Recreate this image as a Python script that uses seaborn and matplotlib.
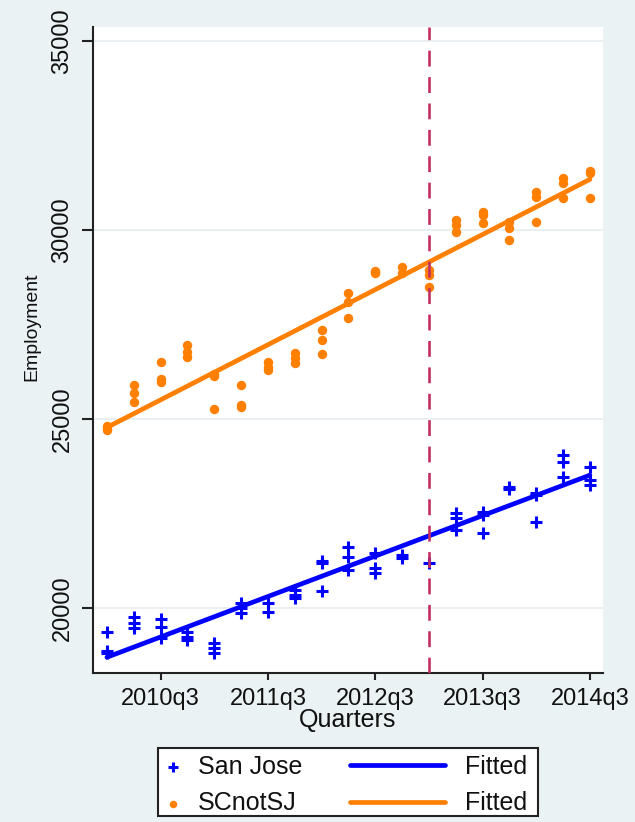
import matplotlib
matplotlib.use('Agg')
import matplotlib.pyplot as plt
import seaborn as sns
import pandas as pd
from matplotlib.patches import Rectangle

# ---------------- data ----------------
quarter_labels = ['2010q1', '2010q2', '2010q3', '2010q4', '2011q1', '2011q2', '2011q3',
                  '2011q4', '2012q1', '2012q2', '2012q3', '2012q4', '2013q1', '2013q2',
                  '2013q3', '2013q4', '2014q1', '2014q2', '2014q3']

# monthly employment observations grouped by quarter
san_jose = [
    [19370, 18850, 18820],
    [19760, 19600, 19470],
    [19710, 19500, 19200],
    [19370, 19230, 19150],
    [19080, 18940, 18810],
    [20130, 20000, 19870],
    [20130, 19890],
    [20480, 20340, 20260],
    [21250, 21200, 20450],
    [21620, 21350, 21000],
    [21450, 21060, 20920],
    [21400, 21320],
    [21190],
    [22510, 22380, 22070],
    [22540, 22450, 21990],
    [23200, 23150],
    [23050, 23000, 22280],
    [24050, 23860, 23470],
    [23730, 23390, 23260],
]
sc_not_sj = [
    [24700, 24760, 24820],
    [25900, 25690, 25450],
    [26510, 26050, 25980],
    [26950, 26780, 26650],
    [26150, 26200, 25270],
    [25900, 25380, 25330],
    [26510, 26380, 26300],
    [26750, 26615, 26480],
    [27350, 27090, 26720],
    [28330, 28100, 27670],
    [28900, 28870, 28920],
    [29020, 28870],
    [28950, 28800, 28500],
    [30270, 30130, 29950],
    [30480, 30400, 30190],
    [30215, 30050, 29740],
    [31000, 30875, 30215],
    [31380, 31245, 30850],
    [31560, 31500, 30850],
]
series_names = ['San Jose', 'SCnotSJ']
tick_labels = ['2010q3', '2011q3', '2012q3', '2013q3', '2014q3']
y_ticks = [20000, 25000, 30000, 35000]
policy_quarter = '2013q1'

# ---------------- build table ----------------
rows = []
for name, groups in zip(series_names, [san_jose, sc_not_sj]):
    for qi, vals in enumerate(groups):
        for v in vals:
            rows.append((qi, v, name))
df = pd.DataFrame(rows, columns=['quarter', 'employment', 'series'])
df_sj = df[df.series == 'San Jose']
df_sc = df[df.series == 'SCnotSJ']

# ---------------- style ----------------
sns.set_theme(style='white')
plt.rcParams['font.family'] = ['Liberation Sans', 'DejaVu Sans']
BG = '#EAF2F3'
BLUE = '#0000FF'
ORANGE = '#FF7F00'
TXT = '#111111'

fig = plt.figure(figsize=(6.35, 8.22), dpi=100, facecolor=BG)
ax = fig.add_axes([93 / 635, 149 / 822, 510 / 635, 646 / 822])
ax.set_facecolor('white')

sns.scatterplot(data=df_sj, x='quarter', y='employment', marker='+', color=BLUE,
                s=85, linewidth=2.2, ax=ax, legend=False, zorder=3)
sj_pts = ax.collections[-1]
sns.scatterplot(data=df_sc, x='quarter', y='employment', marker='o', color=ORANGE,
                s=46, linewidth=0, ax=ax, legend=False, zorder=3)
sc_pts = ax.collections[-1]

sns.regplot(data=df_sj, x='quarter', y='employment', scatter=False, ci=None,
            color=BLUE, line_kws=dict(lw=3.4, zorder=4), ax=ax)
fit_sj = ax.lines[-1]
sns.regplot(data=df_sc, x='quarter', y='employment', scatter=False, ci=None,
            color=ORANGE, line_kws=dict(lw=3.4, zorder=4), ax=ax)
fit_sc = ax.lines[-1]

ax.axvline(quarter_labels.index(policy_quarter), color='#C42E62', lw=1.9,
           ls=(0, (6, 4)), zorder=5)

# ---------------- axes ----------------
ax.set_xlim(-0.52, 18.49)
ax.set_ylim(18280, 35370)
ax.set_xticks([quarter_labels.index(t) for t in tick_labels])
ax.set_xticklabels(tick_labels)
ax.set_yticks(y_ticks)
ax.set_yticklabels([str(t) for t in y_ticks])

ax.grid(True, axis='y', color='#E6EDEF', lw=1.2)
ax.grid(False, axis='x')
ax.set_axisbelow(True)

for side in ['top', 'right']:
    ax.spines[side].set_visible(False)
for side in ['left', 'bottom']:
    ax.spines[side].set_color('#222222')
    ax.spines[side].set_linewidth(1.5)

ax.tick_params(axis='y', length=8, width=1.5, pad=6, labelsize=17,
               labelrotation=90, colors='#222222', labelcolor=TXT, left=True)
ax.tick_params(axis='x', length=5, width=1.5, pad=6, labelsize=17,
               colors='#222222', labelcolor=TXT, bottom=True)
for lab in ax.get_yticklabels():
    lab.set_va('center')

ax.set_xlabel('Quarters', fontsize=18, color=TXT)
ax.xaxis.label.set_va('center')
ax.xaxis.set_label_coords(0.5, -0.073)
ax.set_ylabel('Employment', fontsize=14, color=TXT)
ax.yaxis.label.set_va('center')
ax.yaxis.set_label_coords(-0.12, 0.536)

# ---------------- legend ----------------
fig.add_artist(Rectangle((158 / 635, 6 / 822), 380 / 635, 68 / 822,
                         transform=fig.transFigure, facecolor='white',
                         edgecolor='#222222', lw=1.5, zorder=1))
common = dict(loc='center left', frameon=False, borderpad=0, borderaxespad=0,
              labelspacing=0.5, fontsize=18, labelcolor=TXT)
fig.legend([sj_pts, sc_pts], series_names, bbox_to_anchor=(160.5 / 635, 37 / 822),
           handlelength=1.0, handletextpad=0.5, markerscale=0.8, **common)
fig.legend([fit_sj, fit_sc], ['Fitted', 'Fitted'], bbox_to_anchor=(350 / 635, 37 / 822),
           handlelength=3.8, handletextpad=0.8, **common)

fig.savefig('out.png', dpi=100, facecolor=BG)
